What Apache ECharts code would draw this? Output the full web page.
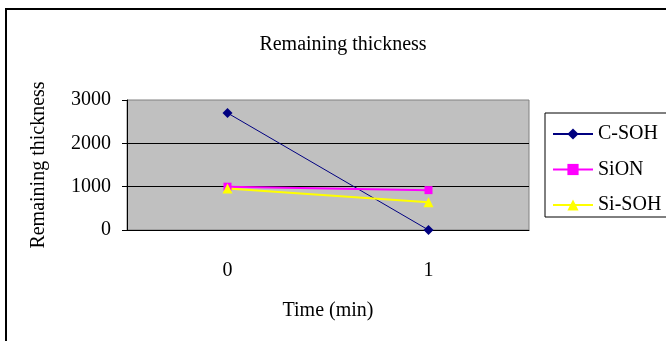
<!DOCTYPE html>
<html>
<head>
<meta charset="utf-8">
<script src="https://cdn.jsdelivr.net/npm/echarts@6/dist/echarts.min.js"></script>
<style>
html, body { margin: 0; padding: 0; background: #fff; }
#chart { width: 666px; height: 341px; }
</style>
</head>
<body>
<div id="chart"></div>
<script>
// values
const timeLabels = ['0', '1'];
const cSoh = [2700, 0];
const siOn = [1000, 920];
const siSoh = [960, 640];
const yTicks = { min: 0, max: 3000, interval: 1000 };

const font = 'Liberation Serif';
const fs = 20;

const chart = echarts.init(document.getElementById('chart'));
chart.setOption({
    animation: false,
    backgroundColor: '#fff',
    textStyle: { fontFamily: font, color: '#000' },
    title: {
        text: 'Remaining thickness',
        left: 338,
        textAlign: 'center',
        top: 30,
        textStyle: { fontFamily: font, fontSize: fs, fontWeight: 'normal', color: '#000' }
    },
    graphic: [{
        type: 'rect',
        shape: { x: 6, y: 9, width: 700, height: 400 },
        style: { fill: 'none', stroke: '#000', lineWidth: 2 },
        silent: true
    }],
    legend: {
        orient: 'vertical',
        left: 545,
        top: 113,
        padding: [11, 6, 2, 7],
        itemWidth: 40,
        itemHeight: 14,
        itemGap: 15.5,
        backgroundColor: '#fff',
        borderColor: '#000',
        borderWidth: 1,
        textStyle: { fontFamily: font, fontSize: fs, color: '#000' },
        data: ['C-SOH', 'SiON', 'Si-SOH']
    },
    grid: {
        left: 127,
        top: 100,
        width: 402,
        height: 130,
        show: true,
        backgroundColor: '#C0C0C0',
        borderColor: '#808080',
        borderWidth: 1
    },
    xAxis: {
        type: 'category',
        data: timeLabels,
        boundaryGap: true,
        name: 'Time (min)',
        nameLocation: 'middle',
        nameGap: 71,
        nameTextStyle: { fontFamily: font, fontSize: fs, color: '#000' },
        axisLine: { lineStyle: { color: '#000', width: 1 } },
        axisTick: { inside: true, length: 6, lineStyle: { color: '#000' } },
        axisLabel: { margin: 31, fontFamily: font, fontSize: fs, color: '#000' },
        splitLine: { show: false }
    },
    yAxis: {
        type: 'value',
        min: yTicks.min,
        max: yTicks.max,
        interval: yTicks.interval,
        name: 'Remaining thickness',
        nameLocation: 'middle',
        nameGap: 78,
        nameTextStyle: { fontFamily: font, fontSize: fs, color: '#000' },
        axisLine: { show: true, lineStyle: { color: '#000', width: 1 } },
        axisTick: { show: true, length: 5, lineStyle: { color: '#000' } },
        axisLabel: {
            margin: 16, fontFamily: font, fontSize: fs, color: '#000',
            formatter: function (v) { return String(v); }
        },
        splitLine: { show: true, showMinLine: false, showMaxLine: false, lineStyle: { color: '#000', width: 1 } }
    },
    series: [{
        name: 'C-SOH',
        type: 'line',
        data: cSoh,
        symbol: 'diamond',
        symbolSize: 10,
        color: '#000080',
        lineStyle: { color: '#000080', width: 1 },
        itemStyle: { color: '#000080' }
    }, {
        name: 'SiON',
        type: 'line',
        data: siOn,
        symbol: 'rect',
        symbolSize: 8,
        color: '#FF00FF',
        lineStyle: { color: '#FF00FF', width: 2 },
        itemStyle: { color: '#FF00FF' }
    }, {
        name: 'Si-SOH',
        type: 'line',
        data: siSoh,
        symbol: 'triangle',
        symbolSize: 10,
        color: '#FFFF00',
        lineStyle: { color: '#FFFF00', width: 2 },
        itemStyle: { color: '#FFFF00' }
    }]
});
</script>
</body>
</html>
